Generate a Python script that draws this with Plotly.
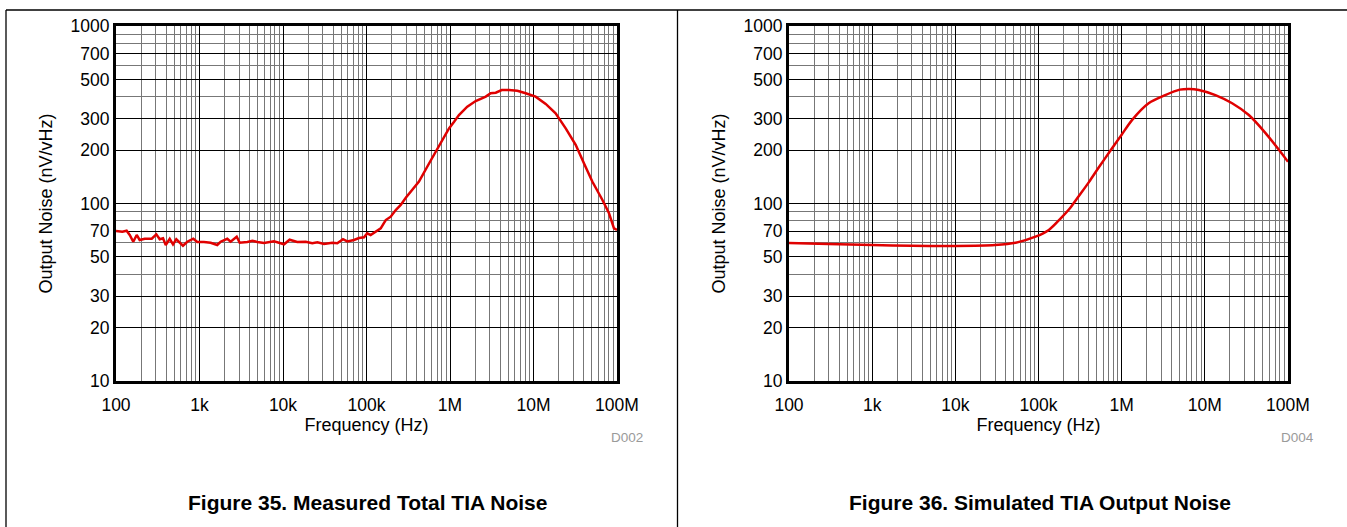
from plotly.graph_objs import Figure, Scatter

# Figure 35 - measured total TIA noise
measured_freq_hz = [100, 119, 134, 146, 161, 177, 192, 221, 268, 304,
                    334, 366, 394, 440, 482, 527, 634, 714, 843, 941,
                    1130, 1360, 1630, 1790, 2150, 2360, 2790, 3030, 3740, 4290,
                    4920, 5920, 7800, 10300, 12000, 14800, 18700, 22400, 25800, 31000,
                    38900, 44700, 52300, 58900, 70800, 81300, 93300, 102000, 112000, 129000,
                    148000, 170000, 195000, 224000, 257000, 297000, 354000, 425000, 561000, 674000,
                    809000, 973000, 1.12e6, 1.28e6, 1.61e6, 2.03e6, 2.68e6, 3.07e6, 3.53e6, 4.16e6,
                    5.09e6, 6.40e6, 8.07e6, 1.06e7, 1.40e7, 1.84e7, 2.43e7, 3.20e7, 4.03e7, 5.06e7,
                    6.67e7, 8.02e7, 9.20e7, 1.0e8]
measured_noise = [70.0, 69.4, 70.3, 66.5, 60.9, 66.5, 62.3, 63.3, 63.3, 67.0,
                  62.9, 63.7, 58.4, 63.3, 58.9, 62.9, 57.8, 60.9, 63.3, 60.7,
                  60.7, 60.1, 58.4, 60.9, 63.3, 60.9, 65.0, 60.1, 60.7, 61.7,
                  60.7, 59.9, 61.2, 58.9, 62.5, 60.7, 60.9, 59.7, 60.4, 59.1,
                  60.1, 59.7, 62.9, 61.2, 62.3, 63.9, 64.5, 67.9, 66.5, 69.4,
                  72.5, 80.7, 84.3, 91.9, 98.1, 108, 119, 133, 168, 196,
                  228, 265, 289, 315, 351, 378, 400, 418, 421, 436,
                  436, 432, 418, 400, 364, 322, 265, 214, 168, 133,
                  105, 88.1, 72.5, 70.9]

# Figure 36 - simulated TIA output noise
simulated_freq_hz = [100, 300, 1000, 3000, 10000, 30000, 53000, 92000, 133000, 185000,
                     243000, 292000, 404000, 532000, 741000, 1.0e6, 1.33e6, 2.11e6, 3.34e6, 5.0e6,
                     6.5e6, 8.47e6, 1.34e7, 2.13e7, 3.38e7, 5.37e7, 1.0e8]
simulated_noise = [60.0, 59.2, 58.3, 57.8, 57.7, 58.4, 60.1, 65.0, 71.0, 82.5,
                   95.0, 107, 132, 160, 200, 244, 295, 367, 408, 438,
                   442, 436, 408, 367, 315, 249, 172]

x_tickvals = [1e2, 1e3, 1e4, 1e5, 1e6, 1e7, 1e8]
x_ticktext = ["100", "1k", "10k", "100k", "1M", "10M", "100M"]
y_tickvals = [10, 20, 30, 50, 70, 100, 200, 300, 500, 700, 1000]
y_minorvals = [40, 60, 80, 90, 400, 600, 800, 900]

W, H = 1347, 527
FONT = "Liberation Sans, Arial, sans-serif"


def px(x):
    """ horizontal pixel -> paper fraction """
    return x / W


def py(y):
    """ vertical pixel (from top) -> paper fraction """
    return 1 - y / H


def logAxis(domain, vals, text, minor, title, standoff):
    """
    Build a boxed log axis with black major and grey minor grid lines
    """
    return dict(type="log", domain=domain, automargin=False,
                tickmode="array", tickvals=vals, ticktext=text,
                showgrid=True, gridcolor="black", gridwidth=1,
                minor=dict(tickmode="array", tickvals=minor, showgrid=True,
                           gridcolor="#777777", gridwidth=1),
                showline=True, linecolor="black", linewidth=3, mirror=True,
                ticks="", zeroline=False,
                tickfont=dict(family=FONT, size=17.5, color="black"),
                title=dict(text=title, standoff=standoff,
                           font=dict(family=FONT, size=18, color="black")))


x_minor = [k * v for v in x_tickvals[:-1] for k in range(2, 10)]

fig = Figure()
fig.add_trace(Scatter(x=measured_freq_hz, y=measured_noise, mode="lines",
                      line=dict(color="#e00000", width=2.5), xaxis="x", yaxis="y"))
fig.add_trace(Scatter(x=simulated_freq_hz, y=simulated_noise, mode="lines",
                      line=dict(color="#e00000", width=2.5, shape="spline", smoothing=0.8),
                      xaxis="x2", yaxis="y2"))

ydom = [py(381), py(26)]
xa1 = logAxis([px(116), px(617)], x_tickvals, x_ticktext, x_minor, "Frequency (Hz)", 4)
xa2 = logAxis([px(789), px(1288)], x_tickvals, x_ticktext, x_minor, "Frequency (Hz)", 4)
ya1 = logAxis(ydom, y_tickvals, [str(v) for v in y_tickvals], y_minorvals, "Output Noise (nV/vHz)", 14)
ya2 = logAxis(ydom, y_tickvals, [str(v) for v in y_tickvals], y_minorvals, "Output Noise (nV/vHz)", 14)
xa1.update(range=[2, 8], anchor="y", ticklabelstandoff=6)
xa2.update(range=[2, 8], anchor="y2", ticklabelstandoff=6)
ya1.update(range=[1, 3], anchor="x")
ya2.update(range=[1, 3], anchor="x2")

# panel frames around the two datasheet figures
frame = dict(type="line", xref="paper", yref="paper", line=dict(color="black", width=1.3))
shapes = [dict(frame, x0=px(6), x1=1, y0=py(10), y1=py(10)),
          dict(frame, x0=px(6), x1=px(6), y0=py(10), y1=0),
          dict(frame, x0=px(677.5), x1=px(677.5), y0=py(10), y1=0)]

annotations = []
for cx, rx, cap, tag in [(367.5, 645, "Figure 35. Measured Total TIA Noise", "D002"),
                         (1039.5, 1316, "Figure 36. Simulated TIA Output Noise", "D004")]:
    annotations.append(dict(x=px(cx), y=py(502), xref="paper", yref="paper",
                            text="<b>" + cap + "</b>", showarrow=False,
                            xanchor="center", yanchor="middle",
                            font=dict(family=FONT, size=21, color="black")))
    annotations.append(dict(x=px(rx), y=py(437), xref="paper", yref="paper",
                            text=tag, showarrow=False, xanchor="right", yanchor="middle",
                            font=dict(family=FONT, size=13.5, color="#9a9a9a")))

fig.update_layout(width=W, height=H,
                  margin=dict(l=0, r=0, t=0, b=0, pad=0, autoexpand=False),
                  plot_bgcolor="white", paper_bgcolor="white", showlegend=False,
                  xaxis=xa1, yaxis=ya1, xaxis2=xa2, yaxis2=ya2,
                  shapes=shapes, annotations=annotations)

# page body has a default 8px margin; drop it so the figure sits at 0,0
fig.write_html("out.html", config={"displayModeBar": False},
               post_script="document.body.style.margin='0';document.body.style.overflow='hidden';")
